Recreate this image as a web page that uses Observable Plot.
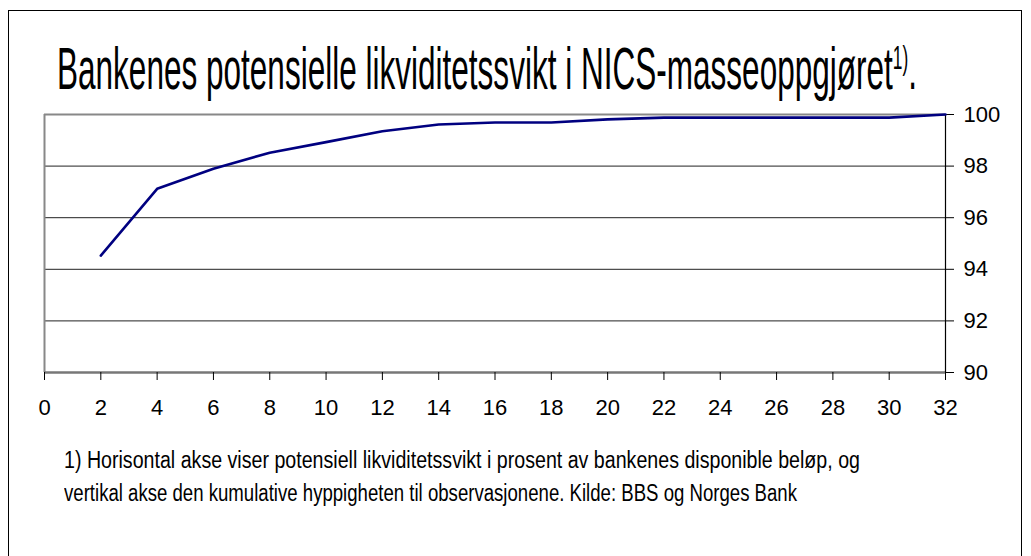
<!DOCTYPE html>
<html>
<head>
<meta charset="utf-8">
<script src="https://cdn.jsdelivr.net/npm/d3@7"></script>
<script src="https://cdn.jsdelivr.net/npm/@observablehq/plot@0.6"></script>
<style>
  html, body { margin: 0; padding: 0; background: #fff; }
  #wrap { position: relative; width: 1031px; height: 556px; overflow: hidden; background: #fff; font-family: "Liberation Sans", Arial, sans-serif; }
  #box { position: absolute; left: 8px; top: 10px; width: 1014px; height: 560px; border: 1px solid #000; box-sizing: border-box; }
  #title { position: absolute; left: 57px; top: 39px; font-size: 60px; line-height: 60px; white-space: nowrap; display: inline-block; transform-origin: 0 0; color: #000; }
  #title sup { font-size: 55%; vertical-align: 0; position: relative; top: -0.6em; }
  .note { position: absolute; left: 64px; font-size: 23px; line-height: 33px; white-space: nowrap; display: inline-block; transform-origin: 0 0; color: #000; }
  #plot { position: absolute; left: 0; top: 100px; }
</style>
</head>
<body>
<div id="wrap">
  <div id="box"></div>
  <div id="title">Bankenes potensielle likviditetssvikt i NICS-masseoppgjøret<sup>1)</sup>.</div>
  <div id="plot"></div>
  <div class="note" id="note1" style="top:443.5px">1) Horisontal akse viser potensiell likviditetssvikt i prosent av bankenes disponible beløp, og</div>
  <div class="note" id="note2" style="top:476.5px">vertikal akse den kumulative hyppigheten til observasjonene. Kilde: BBS og Norges Bank</div>
</div>
<script>
// Data
const shortfallPct = [2, 4, 6, 8, 10, 12, 14, 16, 18, 20, 22, 24, 26, 28, 30, 32];
const cumulativeFreq = [94.53, 97.12, 97.9, 98.52, 98.93, 99.35, 99.61, 99.69, 99.69, 99.81, 99.88, 99.88, 99.88, 99.88, 99.88, 100];
const xTicks = [0, 2, 4, 6, 8, 10, 12, 14, 16, 18, 20, 22, 24, 26, 28, 30, 32];
const yTicks = [90, 92, 94, 96, 98, 100];
const yGrid = [92, 94, 96, 98];

const data = shortfallPct.map((x, i) => ({x, y: cumulativeFreq[i]}));

const chart = Plot.plot({
  width: 1031,
  height: 330,
  marginLeft: 44,
  marginRight: 86,
  marginTop: 14,
  marginBottom: 58,
  style: {fontSize: "22px", fontFamily: "'Liberation Sans', Arial, sans-serif", color: "#000", background: "transparent", overflow: "visible"},
  x: {domain: [0, 32]},
  y: {domain: [90, 100]},
  marks: [
    Plot.gridY(yGrid, {stroke: "#222", strokeOpacity: 1, strokeWidth: 1}),
    Plot.ruleX([0], {stroke: "#888", strokeWidth: 2}),
    Plot.ruleY([100], {stroke: "#888", strokeWidth: 2}),
    Plot.ruleY([90], {stroke: "#777", strokeWidth: 2.5}),
    Plot.ruleX([32], {stroke: "#000", strokeWidth: 1.2}),
    Plot.axisX(xTicks, {tickSize: 8, tickPadding: 19, stroke: "#000", label: null, tickFormat: d => String(d)}),
    Plot.axisY(yTicks, {anchor: "right", tickSize: 8, tickPadding: 10, stroke: "#000", label: null, tickFormat: d => String(d)}),
    Plot.line(data, {x: "x", y: "y", stroke: "#000080", strokeWidth: 2.6})
  ]
});
document.getElementById("plot").appendChild(chart);

function fit(id, target) {
  const el = document.getElementById(id);
  const w = el.getBoundingClientRect().width;
  el.style.transform = `scaleX(${target / w})`;
}
fit("title", 860);
fit("note1", 796);
fit("note2", 733);
</script>
</body>
</html>
